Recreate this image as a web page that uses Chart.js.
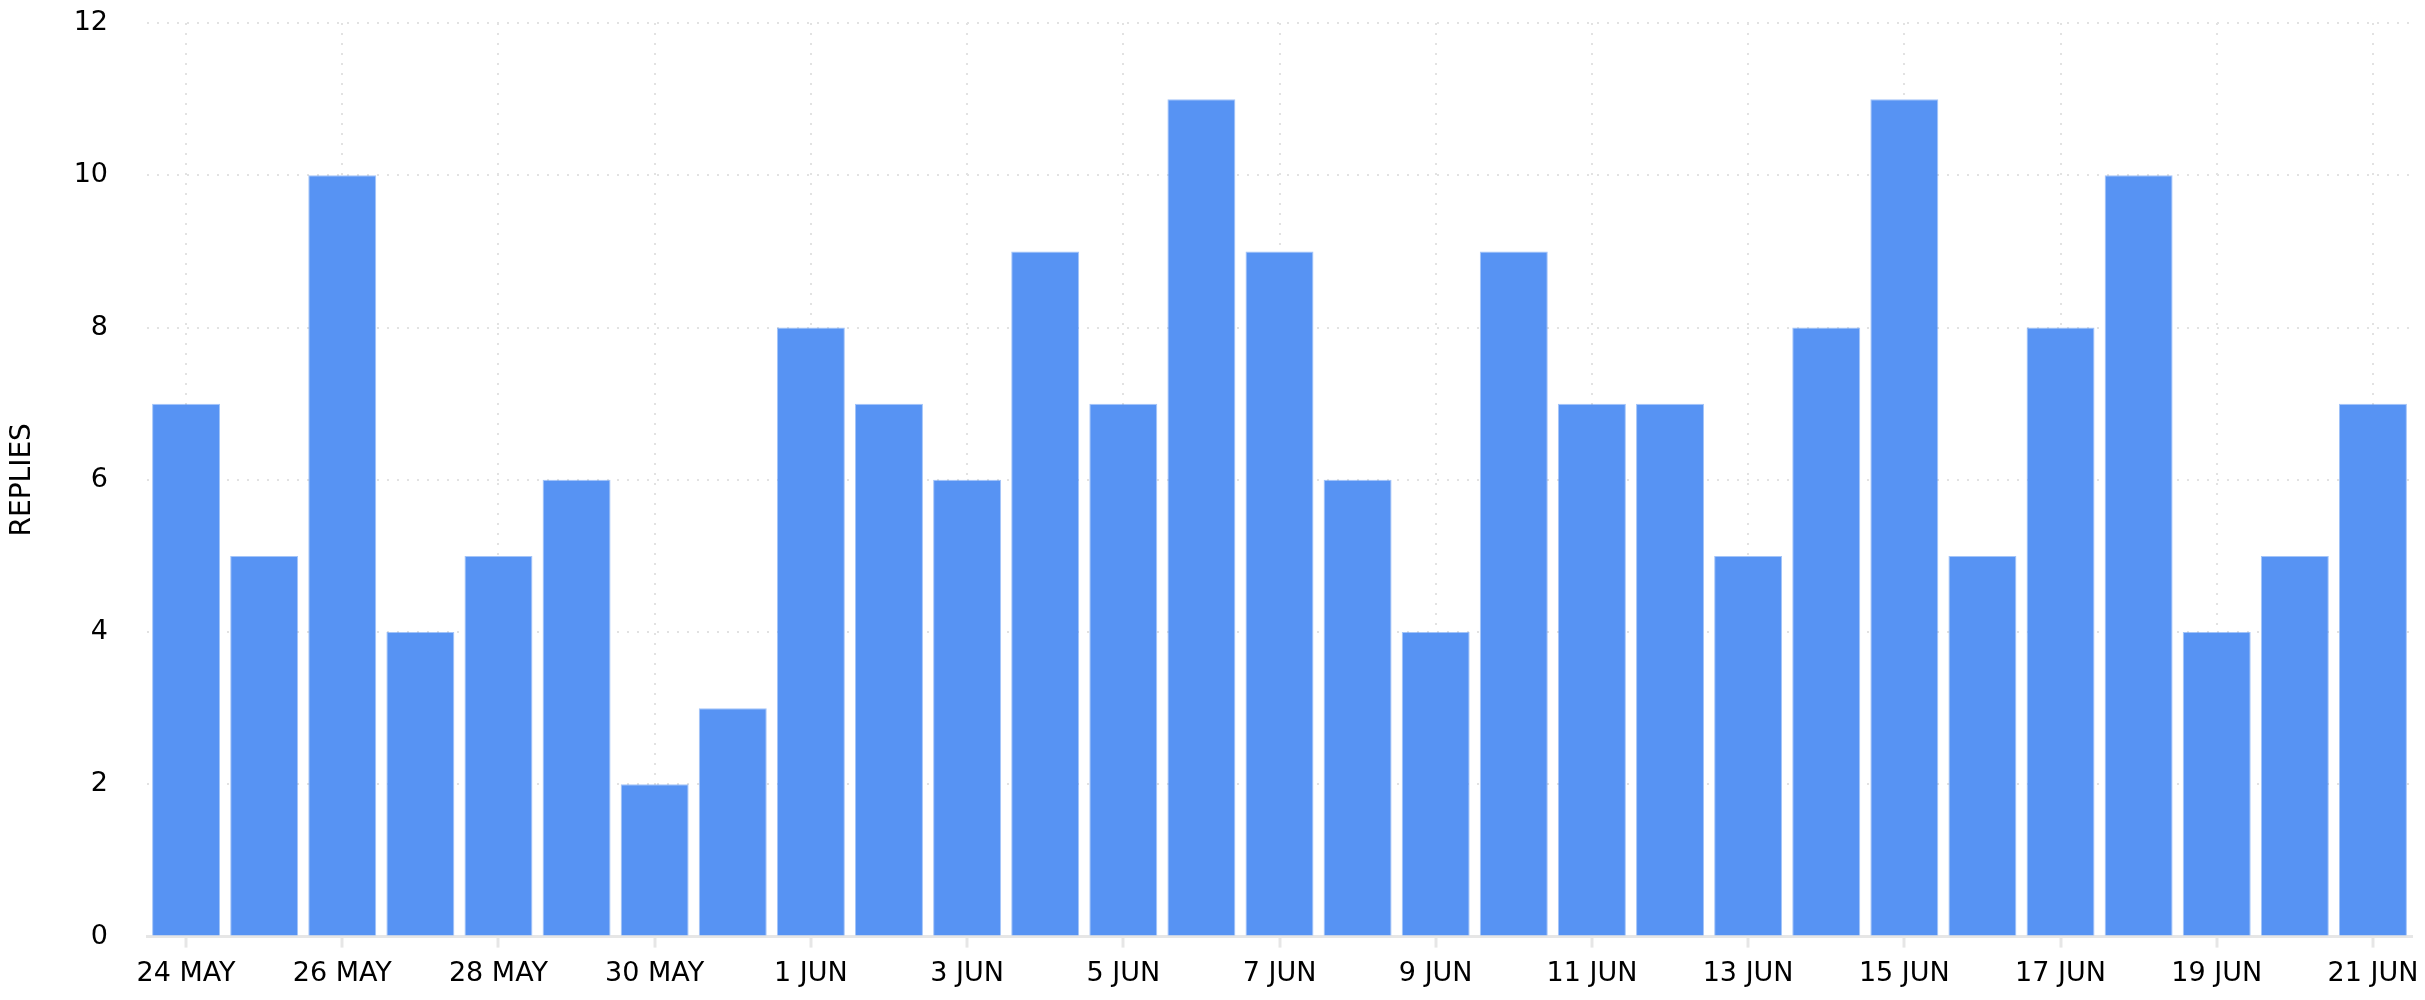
<!DOCTYPE html>
<html>
<head>
<meta charset="utf-8">
<script src="https://cdn.jsdelivr.net/npm/chart.js@4.4.1/dist/chart.umd.min.js"></script>
<style>
  html, body { margin: 0; padding: 0; background: #fff; }
  #wrap { width: 2425px; height: 1000px; position: relative; }
</style>
</head>
<body>
<div id="wrap"><canvas id="repliesChart"></canvas></div>
<script>
// daily replies, 24 May .. 21 Jun
const days = [
  '24 MAY', '25 MAY', '26 MAY', '27 MAY', '28 MAY', '29 MAY', '30 MAY', '31 MAY',
  '1 JUN', '2 JUN', '3 JUN', '4 JUN', '5 JUN', '6 JUN', '7 JUN', '8 JUN', '9 JUN',
  '10 JUN', '11 JUN', '12 JUN', '13 JUN', '14 JUN', '15 JUN', '16 JUN', '17 JUN',
  '18 JUN', '19 JUN', '20 JUN', '21 JUN',
];
const replies = [
  7, 5, 10, 4, 5, 6, 2, 3,
  8, 7, 6, 9, 7, 11, 9, 6, 4,
  9, 7, 7, 5, 8, 11, 5, 8,
  10, 4, 5, 7,
];
const yTicks = [0, 2, 4, 6, 8, 10, 12];

const BAR = '#5793F3';
const GRID = '#e2e2e2';
const AXIS = '#e6e6e6';
const NONE = 'rgba(0,0,0,0)';
const FONT = "'DejaVu Sans', sans-serif";

// only every other day gets a label, tick mark and grid line
const shown = (i) => i % 2 === 0;

new Chart(document.getElementById('repliesChart'), {
  type: 'bar',
  data: {
    labels: days,
    datasets: [{
      label: 'Replies',
      data: replies,
      backgroundColor: BAR,
      borderColor: 'rgba(87,147,243,0.55)',
      borderWidth: 1,
      categoryPercentage: 1,
      barPercentage: 0.87,
    }],
  },
  options: {
    responsive: true,
    maintainAspectRatio: false,
    animation: false,
    layout: { padding: { top: 23, right: 13, left: 0, bottom: 0 } },
    plugins: { legend: { display: false }, tooltip: { enabled: false } },
    scales: {
      x: {
        offset: true,
        afterFit: (s) => { s.paddingLeft = 0; s.paddingRight = 0; },
        border: { display: true, color: AXIS, width: 3, dash: [2, 8] },
        grid: {
          offset: false,
          color: (c) => (shown(c.index) ? GRID : NONE),
          lineWidth: 2,
          drawTicks: true,
          tickLength: 11,
          tickWidth: 3,
          tickColor: (c) => (shown(c.index) ? AXIS : NONE),
          tickBorderDash: [],
        },
        ticks: {
          autoSkip: false,
          maxRotation: 0,
          padding: 10,
          color: '#000',
          font: { family: FONT, size: 27 },
          callback: function (v, i) { return shown(i) ? days[i] : ''; },
        },
      },
      y: {
        min: 0,
        max: 12,
        afterBuildTicks: (s) => { s.ticks = yTicks.map((v) => ({ value: v })); },
        afterFit: (s) => { s.width = 147; },
        border: { display: false, dash: [2, 8] },
        // invisible tick marks keep the labels clear of the plot
        grid: { color: GRID, lineWidth: 2, drawTicks: true, tickLength: 39, tickColor: NONE },
        ticks: {
          padding: 0,
          color: '#000',
          font: { family: FONT, size: 27 },
        },
        title: {
          display: true,
          text: 'REPLIES',
          color: '#000',
          font: { family: FONT, size: 28 },
          padding: { top: 6, bottom: 0 },
        },
      },
    },
  },
});
</script>
</body>
</html>
